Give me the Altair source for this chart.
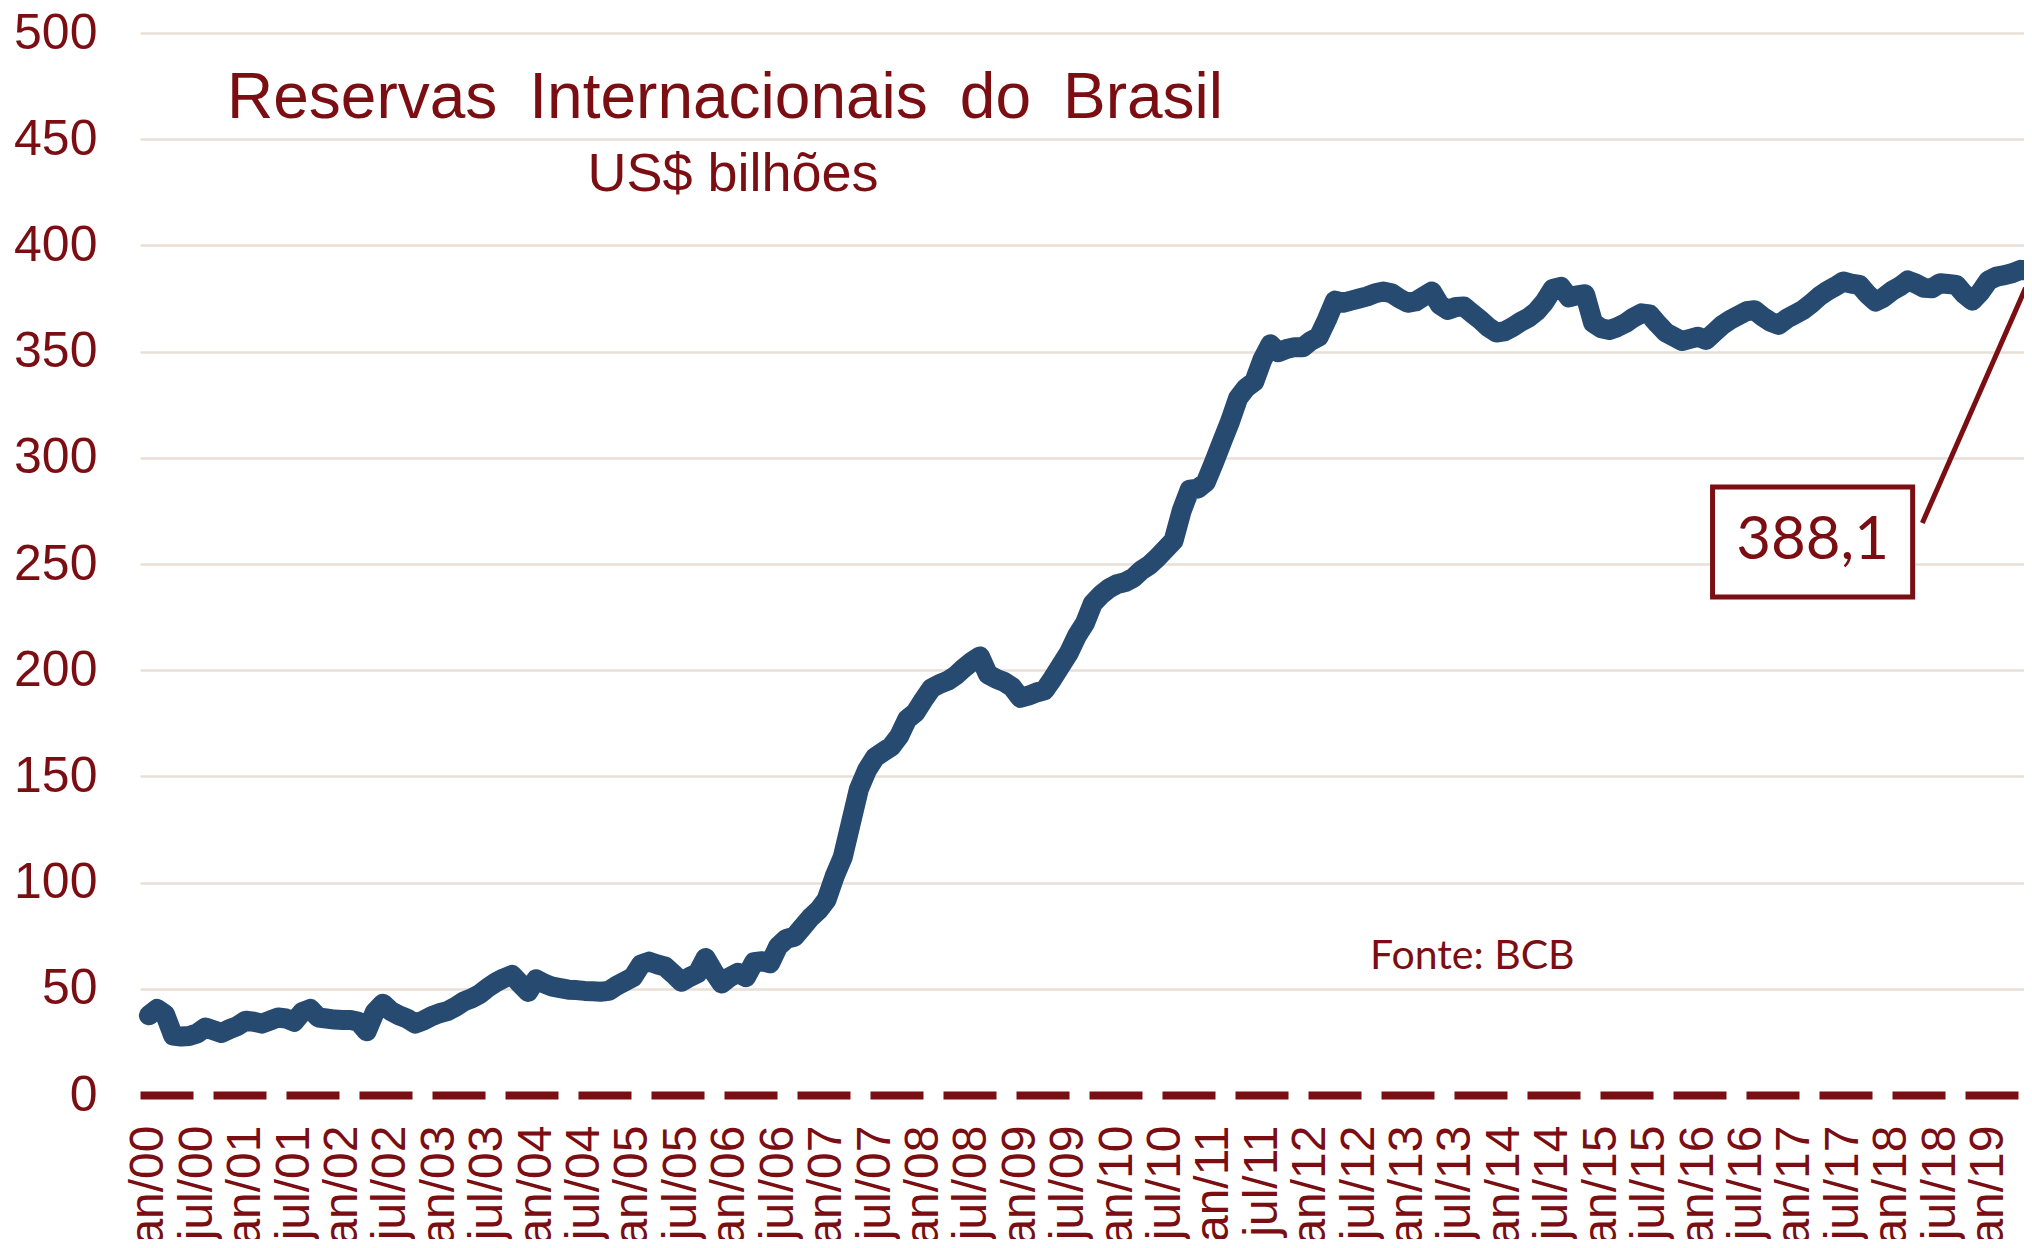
import json
import altair as alt
import pandas as pd

# ---------------- data (US$ bilhões, monthly jan/2000 .. jun/2019) ----------------
r2000 = [37.5, 40.5, 38.0, 28.0, 27.5, 27.8, 29.0, 31.8, 30.5, 29.2, 31.0, 32.5]
r2001 = [35.0, 34.5, 33.6, 35.0, 36.5, 36.0, 34.5, 39.0, 40.5, 36.5, 36.0, 35.5]
r2002 = [35.3, 35.3, 34.5, 30.0, 39.0, 43.0, 39.5, 37.5, 36.0, 33.6, 35.0, 37.0]
r2003 = [38.5, 39.5, 41.5, 44.0, 45.5, 47.5, 50.5, 53.0, 55.0, 56.5, 52.5, 48.5]
r2004 = [54.5, 52.5, 51.0, 50.3, 49.6, 49.4, 49.0, 48.8, 48.6, 49.0, 51.5, 53.5]
r2005 = [55.5, 61.5, 62.8, 61.5, 60.4, 57.0, 53.3, 55.5, 57.3, 64.5, 58.0, 52.5]
r2006 = [55.5, 57.5, 55.5, 62.5, 63.0, 62.0, 70.0, 73.5, 74.5, 79.0, 83.5, 87.0]
r2007 = [92.0, 103.0, 112.0, 128.0, 144.0, 153.0, 159.0, 161.5, 164.0, 169.0, 177.0, 180.0]
r2008 = [186.0, 191.5, 193.5, 195.0, 197.5, 201.0, 204.0, 206.5, 198.0, 196.0, 194.5, 192.0]
r2009 = [187.0, 188.0, 189.5, 190.5, 196.0, 202.0, 208.0, 216.0, 222.0, 231.5, 235.5, 238.5]
r2010 = [240.5, 241.5, 243.5, 247.0, 249.5, 253.0, 257.0, 261.0, 275.0, 285.0, 285.5, 288.5]
r2011 = [297.7, 307.5, 317.1, 328.1, 333.0, 335.8, 346.1, 353.4, 349.7, 351.2, 352.1, 352.0]
r2012 = [355.0, 357.0, 365.0, 374.0, 373.0, 374.0, 375.0, 376.0, 377.5, 378.3, 377.5, 375.0]
r2013 = [373.0, 373.6, 376.0, 378.3, 372.0, 369.6, 371.0, 371.2, 368.0, 365.0, 361.5, 359.0]
r2014 = [359.5, 361.5, 364.0, 366.0, 369.0, 373.5, 379.5, 380.5, 375.5, 376.5, 377.0, 363.5]
r2015 = [361.0, 360.2, 361.5, 363.4, 366.0, 368.0, 367.5, 363.0, 359.0, 357.0, 355.0, 356.0]
r2016 = [357.0, 355.5, 359.0, 362.5, 365.0, 367.0, 369.0, 369.5, 366.5, 364.0, 362.6, 365.5]
r2017 = [367.5, 369.6, 372.5, 375.9, 378.5, 380.6, 383.0, 382.0, 381.4, 377.0, 373.6, 375.5]
r2018 = [378.5, 380.6, 383.5, 382.0, 380.0, 379.8, 382.2, 381.8, 381.4, 377.0, 374.0, 378.0]
r2019 = [383.5, 385.3, 386.0, 387.0, 388.5, 388.1]

reserves = (r2000 + r2001 + r2002 + r2003 + r2004 + r2005 + r2006 + r2007 + r2008
            + r2009 + r2010 + r2011 + r2012 + r2013 + r2014 + r2015 + r2016
            + r2017 + r2018 + r2019)
month_index = list(range(len(reserves)))

tick_labels = [
    "jan/00", "jul/00", "jan/01", "jul/01", "jan/02", "jul/02", "jan/03", "jul/03",
    "jan/04", "jul/04", "jan/05", "jul/05", "jan/06", "jul/06", "jan/07", "jul/07",
    "jan/08", "jul/08", "jan/09", "jul/09", "jan/10", "jul/10", "jan/11", "jul/11",
    "jan/12", "jul/12", "jan/13", "jul/13", "jan/14", "jul/14", "jan/15", "jul/15",
    "jan/16", "jul/16", "jan/17", "jul/17", "jan/18", "jul/18", "jan/19",
]
tick_values = [6 * k for k in range(len(tick_labels))]
y_ticks = [0, 50, 100, 150, 200, 250, 300, 350, 400, 450, 500]

# en spaces reproduce the wide word gaps of the original title
title_text = "Reservas\u2002Internacionais\u2002do\u2002Brasil"
subtitle_text = "US$ bilhões"
source_text = "Fonte: BCB"
last_label = "388,1"

# annotation box / leader placed in data units
box_m = [193.8, 218.6]
box_v = [234.5, 286.3]
leader_m = [219.8, 232.6]
leader_v = [269.3, 380.0]

# ---------------- styles ----------------
RED = "#7a0e12"
BLUE = "#274a70"
GRID = "#e8dfd7"
W, H = 1884, 1062

df = pd.DataFrame({"m": month_index, "v": reserves})

x_scale = alt.Scale(domain=[-1.1, 232.4], nice=False, zero=False)
y_scale = alt.Scale(domain=[0, 500], nice=False)

label_expr = json.dumps(tick_labels) + "[round(datum.value / 6)]"

line = alt.Chart(df).mark_line(
    color=BLUE, strokeWidth=20, strokeCap="round", strokeJoin="round"
).encode(
    x=alt.X("m:Q", scale=x_scale, title=None,
            axis=alt.Axis(values=tick_values, labelExpr=label_expr, labelAngle=270,
                          labelFont="Liberation Sans", labelFontSize=48, labelColor=RED,
                          labelPadding=30, labelOverlap=False, labelFlush=False,
                          labelBound=False, ticks=False, tickSize=0, grid=False,
                          domain=True, domainColor=RED, domainWidth=8,
                          domainDash=[53, 20], domainCap="butt")),
    y=alt.Y("v:Q", scale=y_scale, title=None,
            axis=alt.Axis(values=y_ticks, labelFont="Liberation Sans", labelFontSize=50,
                          labelColor=RED, labelPadding=43, ticks=False, tickSize=0,
                          domain=False, grid=True, gridColor=GRID, gridWidth=2.5,
                          gridOpacity={"condition": {"test": "datum.value === 0", "value": 0},
                                       "value": 1})),
)

box_df = pd.DataFrame({"m": [box_m[0]], "m2": [box_m[1]], "v": [box_v[0]], "v2": [box_v[1]]})
box = alt.Chart(box_df).mark_rect(fill="white", stroke=RED, strokeWidth=5).encode(
    x=alt.X("m:Q", scale=x_scale), x2="m2:Q",
    y=alt.Y("v:Q", scale=y_scale), y2="v2:Q",
)

lab_df = pd.DataFrame({"m": [(box_m[0] + box_m[1]) / 2], "v": [(box_v[0] + box_v[1]) / 2],
                       "t": [last_label]})
box_text = alt.Chart(lab_df).mark_text(
    font="Lato", fontSize=60, color=RED, align="center", baseline="middle", dy=-1
).encode(x=alt.X("m:Q", scale=x_scale), y=alt.Y("v:Q", scale=y_scale), text="t:N")

lead_df = pd.DataFrame({"m": [leader_m[0]], "m2": [leader_m[1]],
                        "v": [leader_v[0]], "v2": [leader_v[1]]})
leader = alt.Chart(lead_df).mark_rule(color=RED, strokeWidth=5).encode(
    x=alt.X("m:Q", scale=x_scale), x2="m2:Q",
    y=alt.Y("v:Q", scale=y_scale), y2="v2:Q",
)

one = pd.DataFrame({"k": [0]})
title = alt.Chart(one).mark_text(
    text=title_text, font="Liberation Sans", fontSize=64, color=RED,
    align="center", baseline="alphabetic"
).encode(x=alt.value(585), y=alt.value(85))

subtitle = alt.Chart(one).mark_text(
    text=subtitle_text, font="Liberation Sans", fontSize=54, color=RED,
    align="center", baseline="alphabetic"
).encode(x=alt.value(593), y=alt.value(158))

source = alt.Chart(one).mark_text(
    text=source_text, font="Lato", fontSize=41, color=RED,
    align="left", baseline="alphabetic"
).encode(x=alt.value(1230), y=alt.value(936))

chart = alt.layer(line, leader, box, box_text, title, subtitle, source).properties(
    width=W, height=H,
    autosize=alt.AutoSizeParams(type="none"),
    padding={"left": 132, "top": 25, "right": 0, "bottom": 144},
    background="white",
).configure_view(stroke=None)

chart.save("out.html", embed_options={"renderer": "svg", "actions": False})
